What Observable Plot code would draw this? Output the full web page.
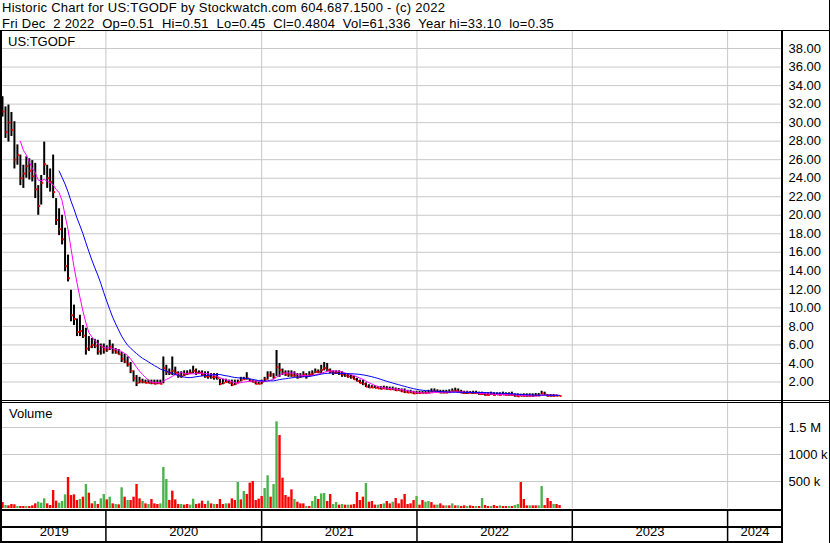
<!DOCTYPE html>
<html><head><meta charset="utf-8">
<script src="https://cdn.jsdelivr.net/npm/d3@7"></script>
<script src="https://cdn.jsdelivr.net/npm/@observablehq/plot@0.6"></script>
<style>
html,body{margin:0;padding:0;background:#fff;}
#chart{position:relative;width:830px;height:543px;overflow:hidden;font-family:"Liberation Sans",Arial,sans-serif;font-size:13px;color:#000;background:#fff;}
.ln{position:absolute;background:#000;}
.txt{position:absolute;white-space:pre;line-height:13px;}
.hdr{letter-spacing:0.245px;}
</style></head><body>
<div id="chart">
  <div class="txt hdr" style="left:2px;top:1px">Historic Chart for US:TGODF by Stockwatch.com 604.687.1500 - (c) 2022</div>
  <div class="txt hdr" style="left:2px;top:17px">Fri Dec  2 2022  Op=0.51  Hi=0.51  Lo=0.45  Cl=0.4804  Vol=61,336  Year hi=33.10  lo=0.35</div>
</div>
<script>
// ---------- DATA (weekly bars, Fridays) ----------
const firstWeek = "2019-05-03";
const lastWeek = "2022-12-02";
const high = [
32.8,31.7,31.9,31.1,30.1,27.6,26.5,25.4,26.3,26.1,
25.9,25.6,23.2,24.3,27.9,25.4,25.0,26.5,21.8,20.7,
20.0,18.6,15.7,11.9,10.3,8.8,9.2,8.1,7.8,6.9,
6.7,6.6,6.5,6.1,6.1,5.9,6.5,6.1,5.6,5.5,
5.2,5.0,4.7,4.1,3.2,2.7,2.5,2.3,2.2,2.2,
2.2,2.2,2.2,2.2,4.7,3.8,3.4,4.7,3.6,3.1,
3.1,3.2,3.2,3.3,3.7,3.4,3.2,3.2,3.1,3.1,
2.9,2.9,2.9,2.3,2.3,2.3,2.2,2.2,2.2,2.2,
2.5,2.5,3.0,2.3,2.2,2.1,2.0,2.2,2.5,3.1,
3.1,2.9,5.4,4.0,3.4,3.2,3.2,3.2,3.1,2.9,
2.9,3.1,2.9,3.1,3.2,3.4,3.3,3.8,4.1,4.0,
3.4,3.2,3.2,3.2,3.1,2.9,2.8,2.7,2.6,2.4,
2.2,2.2,1.9,1.7,1.6,1.6,1.5,1.5,1.55,1.5,
1.45,1.45,1.35,1.3,1.25,1.25,1.1,1.1,1.0,1.0,
1.0,0.97,0.97,1.1,1.25,1.25,1.15,1.1,1.1,1.1,
1.15,1.25,1.33,1.25,1.1,1.0,1.0,0.97,1.0,1.0,
0.9,0.9,0.83,0.83,0.9,0.83,0.83,0.83,0.9,0.83,
0.83,0.9,0.72,0.72,0.68,0.72,0.72,0.72,0.72,0.75,
0.75,1.0,0.9,0.65,0.65,0.65,0.6,0.51];
const low = [
30.6,28.3,27.9,28.5,25.0,25.4,23.2,22.9,24.0,23.8,
23.6,21.8,20.0,21.1,24.3,22.9,22.5,21.8,18.9,17.8,
16.8,13.9,12.8,8.5,8.1,6.9,6.9,6.7,4.9,5.3,
5.6,5.6,4.9,4.9,5.0,5.2,5.4,5.0,5.0,4.9,
4.1,4.0,3.6,2.9,2.0,1.5,1.8,1.8,1.8,1.8,
1.7,1.7,1.7,1.7,1.8,2.7,2.7,2.7,2.7,2.4,
2.4,2.6,2.7,2.8,2.9,2.7,2.8,2.6,2.4,2.3,
2.3,2.2,2.2,1.6,1.7,1.9,1.8,1.5,1.6,1.8,
2.0,2.2,2.2,2.0,1.9,1.7,1.7,1.7,2.0,2.2,
2.5,2.3,2.6,2.5,2.7,2.6,2.5,2.5,2.5,2.3,
2.4,2.5,2.3,2.5,2.7,2.9,2.9,2.9,3.2,3.1,
2.9,2.7,2.8,2.7,2.5,2.5,2.4,2.3,2.2,2.0,
1.8,1.6,1.4,1.3,1.3,1.3,1.25,1.15,1.2,1.1,
1.1,1.1,0.97,1.0,0.85,0.75,0.75,0.75,0.65,0.65,
0.65,0.7,0.7,0.72,0.83,0.9,0.83,0.72,0.72,0.72,
0.8,0.9,0.9,0.83,0.72,0.65,0.65,0.7,0.65,0.65,
0.55,0.55,0.47,0.47,0.55,0.47,0.55,0.47,0.55,0.47,
0.47,0.47,0.36,0.35,0.4,0.36,0.36,0.36,0.36,0.4,
0.4,0.6,0.55,0.36,0.36,0.36,0.4,0.45];
const close = [
31.2,29.0,30.0,29.2,26.0,26.5,24.0,24.5,25.3,24.8,
24.2,22.8,21.0,23.5,25.5,24.0,23.6,22.5,19.5,18.5,
17.4,14.5,13.2,9.2,8.8,7.4,7.5,7.0,5.6,5.8,
6.0,5.9,5.3,5.8,5.5,5.5,5.8,5.4,5.2,5.0,
4.5,4.2,3.9,3.2,2.4,1.9,2.1,2.0,1.9,1.9,
1.9,1.8,1.9,1.8,3.5,3.1,3.0,3.2,3.0,2.7,
2.6,2.8,2.9,3.0,3.2,3.0,3.0,2.8,2.6,2.6,
2.5,2.5,2.4,1.8,1.9,2.0,1.9,1.7,1.8,2.0,
2.2,2.3,2.4,2.1,2.0,1.8,1.8,2.0,2.3,2.7,
2.8,2.5,3.6,3.3,3.0,2.8,2.8,2.7,2.7,2.5,
2.6,2.8,2.6,2.8,2.9,3.1,3.1,3.3,3.5,3.3,
3.1,3.0,3.0,2.9,2.8,2.7,2.6,2.5,2.3,2.1,
1.9,1.8,1.5,1.4,1.4,1.35,1.3,1.25,1.3,1.25,
1.2,1.2,1.1,1.1,1.0,0.9,0.85,0.85,0.75,0.8,
0.8,0.8,0.8,0.85,0.95,1.0,0.95,0.85,0.85,0.85,
0.9,1.0,1.05,0.95,0.85,0.8,0.8,0.8,0.8,0.8,
0.7,0.7,0.6,0.6,0.7,0.6,0.65,0.6,0.65,0.6,
0.6,0.6,0.5,0.45,0.5,0.5,0.5,0.5,0.5,0.55,
0.55,0.75,0.65,0.5,0.5,0.5,0.5,0.48];
// volume in thousands of shares
const volume = [
111,56,49,74,68,37,37,37,37,37,
49,86,117,99,179,86,56,333,136,99,
130,253,574,240,253,148,167,210,444,284,
86,130,74,179,259,160,210,86,74,68,
383,210,148,148,210,444,179,130,86,74,
167,86,74,86,759,537,148,321,160,74,
74,62,74,62,173,74,86,136,74,136,
86,74,74,167,74,86,86,179,148,481,
160,315,259,469,500,148,173,222,370,605,
210,444,1604,1351,561,241,210,346,167,117,
86,86,37,37,130,222,167,271,278,130,
259,74,111,62,74,62,62,62,74,296,
148,210,463,117,130,62,62,74,86,130,
86,117,185,86,160,259,74,86,148,222,
62,148,117,130,111,62,62,86,49,49,
49,86,49,49,37,49,37,49,37,37,
37,185,56,37,37,56,37,49,37,37,
37,37,56,74,481,167,49,49,49,49,
49,407,56,185,130,74,74,56];
// r = down day (red), g = up day (green)
const volDir = "rgrrrgrrgr" + "rrgggrrrrg" + "ggrrrrgrgr" + "rgrggrgrgr" + "grgrrrrgrg" +
  "rrrgggrrrr" + "grrggrrrrg" + "rgrrrgrrrg" + "rgrrrrrrgg" + "rggrrrrrgr" +
  "rrgrggrggr" + "rggrgrgrrr" + "rrgrrrgrgr" + "rgrrrrrrrg" + "rrggrrgrrg" +
  "rgrgrrgrrg" + "rgrrgrrgrr" + "grggrrrgrr" + "ggrrrgrr";

const priceTicks = [2,4,6,8,10,12,14,16,18,20,22,24,26,28,30,32,34,36,38];
const volTicks = [500, 1000, 1500];
const volTickLabels = ["500 k", "1000 k", "1.5 M"];
const yearStartsStr = ["2020-01-01","2021-01-01","2022-01-01","2023-01-01","2024-01-01"];
const yearLabels = ["2019","2020","2021","2022","2023","2024"];
const xDomainStr = ["2019-05-03", "2024-05-09"];

// ---------- BUILD ----------
const weeks = d3.utcFriday.range(new Date(firstWeek), d3.utcDay.offset(new Date(lastWeek), 1));
const rows = weeks.map((date, i) => ({
  date, high: high[i], low: low[i], close: close[i], vol: volume[i],
  col: volDir[i] === "g" ? "#4cb34c" : "#ff0000"
}));
const xDomain = xDomainStr.map(d => new Date(d));
const yearStarts = yearStartsStr.map(d => new Date(d));
const yearMarks = yearLabels.map(y => {
  const s = Math.max(+new Date(`${y}-01-01`), +xDomain[0]);
  const e = Math.min(+new Date(`${+y + 1}-01-01`), +xDomain[1]);
  return {label: y, date: new Date((s + e) / 2)};
});

const font = {fontFamily: '"Liberation Sans", Arial, sans-serif', fontSize: "13px", color: "#000", background: "transparent", overflow: "visible"};
const grid = "#c8c8c8";
const chart = document.getElementById("chart");
function place(svg, top) {
  svg.style.position = "absolute"; svg.style.left = "0px"; svg.style.top = top + "px";
  chart.appendChild(svg);
}

const price = Plot.plot({
  width: 830, height: 370,
  marginLeft: 2, marginRight: 48, marginTop: 0, marginBottom: 1,
  style: font,
  x: {type: "utc", domain: xDomain, axis: null},
  y: {domain: [0, 39.84]},
  marks: [
    Plot.ruleY(priceTicks, {stroke: grid, strokeOpacity: 1}),
    Plot.ruleX(yearStarts, {stroke: grid, strokeOpacity: 1}),
    Plot.axisY(priceTicks, {anchor: "right", tickSize: 0, tickPadding: 6, tickFormat: d => d.toFixed(2), label: null, fontSize: 13}),
    Plot.ruleX(rows, {x: "date", y1: "low", y2: "high", stroke: "#000", strokeWidth: 2}),
    Plot.dot(rows, {x: "date", y: "close", symbol: "square", r: 1.1, fill: "#ff0000", dx: 1}),
    Plot.lineY(rows, Plot.windowY({k: 7, anchor: "end", strict: true}, {x: "date", y: "close", stroke: "#ff00ff", strokeWidth: 1})),
    Plot.lineY(rows, Plot.windowY({k: 20, anchor: "end", strict: true}, {x: "date", y: "close", stroke: "#0000ff", strokeWidth: 1}))
  ]
});
place(price, 31);

const vol = Plot.plot({
  width: 830, height: 105,
  marginLeft: 2, marginRight: 48, marginTop: 0, marginBottom: 0,
  style: font,
  x: {type: "utc", domain: xDomain, axis: null},
  y: {domain: [0, 1944]},
  marks: [
    Plot.ruleY(volTicks, {stroke: grid, strokeOpacity: 1}),
    Plot.ruleX(yearStarts, {stroke: grid, strokeOpacity: 1}),
    Plot.axisY(volTicks, {anchor: "right", tickSize: 0, tickPadding: 6, tickFormat: (d, i) => volTickLabels[i], label: null, fontSize: 13}),
    Plot.ruleX(rows, {x: "date", y: "vol", stroke: "col", strokeWidth: 2.4})
  ]
});
place(vol, 403);

const years = Plot.plot({
  width: 830, height: 31,
  marginLeft: 2, marginRight: 48, marginTop: 0, marginBottom: 0,
  style: font,
  x: {type: "utc", domain: xDomain, axis: null},
  marks: [
    Plot.ruleX(yearStarts, {stroke: "#000", strokeWidth: 1.5}),
    Plot.text(yearMarks, {x: "date", text: "label", frameAnchor: "bottom", dy: -7, fontSize: 13, fill: "#000"})
  ]
});
place(years, 511);

// frame lines (decoration)
const lines = [
  [0, 30, 830, 1],      // header underline
  [0, 400, 830, 1],     // price/volume double line
  [0, 402, 830, 1],
  [0, 509, 783, 2],     // volume bottom
  [0, 526, 783, 2],     // row separator
  [0, 541, 783, 2],     // bottom
  [781, 30, 2, 513],    // right axis line
  [0, 31, 2, 511],      // left border
  [829, 0, 1, 543]
];
for (const [l, t, w, h] of lines) {
  const d = document.createElement("div");
  d.className = "ln";
  Object.assign(d.style, {left: l + "px", top: t + "px", width: w + "px", height: h + "px"});
  chart.appendChild(d);
}
function label(text, l, t) {
  const d = document.createElement("div");
  d.className = "txt"; d.textContent = text;
  Object.assign(d.style, {left: l + "px", top: t + "px"});
  chart.appendChild(d);
}
label("US:TGODF", 8, 35);
label("Volume", 9, 407);
</script>
</body></html>
